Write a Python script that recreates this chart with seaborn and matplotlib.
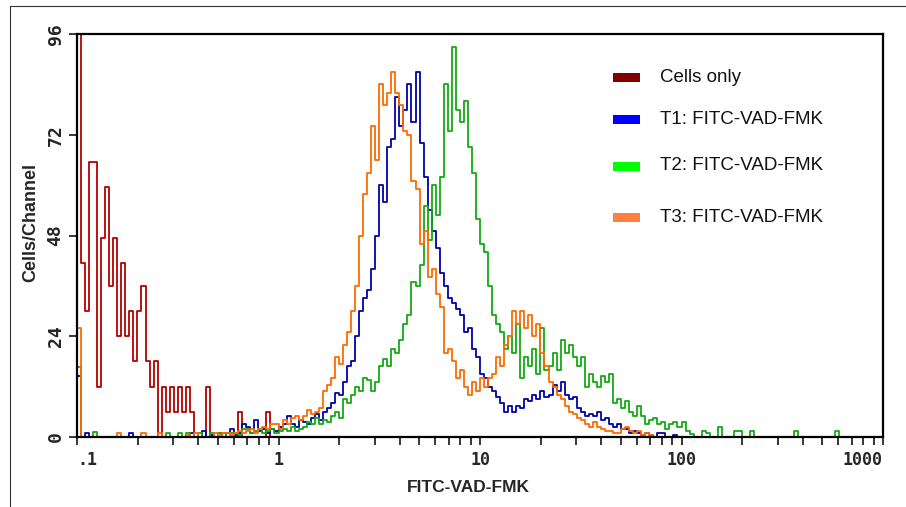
import numpy as np
import pandas as pd
import matplotlib
matplotlib.use("Agg")
import matplotlib.pyplot as plt
import seaborn as sns
from matplotlib.ticker import FixedLocator, LogLocator, NullFormatter
from matplotlib.lines import Line2D
from matplotlib.patches import Rectangle

# ---- data: counts per channel; channels are log10-spaced bins of 0.02 decade from 0.1 ----
log_start = -1.0
log_step = 0.02
n_channels = 200

cells_only = [96, 41.5, 30, 65.5, 65.5, 12, 47.5, 59.5, 36, 47.5,
              24, 41.5, 24, 30, 18, 30, 36, 18, 12, 18,
              0, 12, 6, 12, 6, 12, 6, 12, 6, 0,
              0, 0, 12, 0, 0, 0, 0, 0, 0, 0,
              6, 0, 0, 0, 0, 0, 0, 6]

t1_counts = [14.5, 0, 1, 0, 0, 0, 0, 0, 0, 0,
             0, 0, 0, 1, 0, 0, 0, 0, 0, 0,
             0, 0, 0, 0, 0, 0, 0, 0, 1, 0,
             0, 1.5, 0, 0.5, 0, 1, 0, 1, 2, 0.5,
             1, 3, 2.5, 1, 4, 1.5, 2, 1, 2, 1.5,
             2.5, 3, 5, 3, 2.5, 4, 3.5, 3, 4.5, 5.5,
             4, 6, 7, 8, 10.5, 10, 13, 17, 18, 24,
             30, 33, 35, 40, 48, 60, 56, 69, 71, 81,
             74, 78, 84, 75, 87, 70, 62, 54, 49, 45,
             39, 36, 33, 32, 30.5, 29, 25, 26, 21, 19,
             15, 14, 12, 11, 9.5, 8, 6, 7.5, 6, 7.5,
             7, 9, 8.5, 10, 9, 11, 9.5, 10, 12.5, 11,
             13, 10, 9, 9.5, 7, 6, 5, 5.5, 5, 6,
             4, 4.5, 3, 2.5, 3, 2, 2, 1, 1.5, 1,
             0.5, 1, 0.5, 0, 1, 1, 0, 0, 0.5]

t2_counts = [16.7, 0, 0, 0, 1.2, 0, 0, 0, 0, 0,
             0, 0, 0, 0, 0, 0, 0, 0, 0, 0,
             0, 0, 1, 0, 0, 1, 0, 1, 0, 0,
             1, 0, 0, 1, 0, 1, 1, 0, 1, 1,
             0.5, 2, 2, 1, 1.5, 2, 1, 1.5, 2, 1,
             1.5, 2, 1.5, 2.5, 1.5, 2, 2.5, 3.5, 3, 4.5,
             3, 4, 3.5, 5, 6, 4.5, 9, 8, 10, 12,
             11, 14, 13.5, 11, 13, 17, 18.5, 17, 21, 20,
             23, 27, 29, 37, 36, 41, 55, 47, 60, 53,
             62, 84, 73, 93, 78, 75, 80, 69, 63, 52,
             46, 44, 36, 29, 27, 25, 21, 24, 20, 27,
             14, 19, 17, 21, 15, 26, 16, 17, 20, 16,
             23, 20, 22, 19, 17, 19, 12, 15, 13, 12,
             14.5, 13, 15, 8, 9, 7, 8.5, 6, 5, 7.5,
             5, 3, 4, 4.5, 3, 3.5, 2, 3, 3.5, 2.5,
             3.5, 1.5, 0.8, 0, 0, 1.5, 1, 0, 0, 2.5,
             0, 0, 0, 1.5, 1.5, 0, 0, 1.5, 0, 0,
             0, 0, 0, 0, 0, 0, 0, 0, 1.5, 0,
             0, 0, 0, 0, 0, 0, 0, 0, 1.5]

t3_counts = [26, 0, 0, 0, 0, 0, 0, 0, 0, 0,
             1, 0, 0, 0, 0, 0, 1, 0, 0, 0,
             1, 0, 0, 0, 0, 0, 0, 0.5, 0, 1,
             0, 0, 0, 0, 1, 0.5, 1, 1, 0.5, 1,
             1.5, 1, 1.5, 2, 1, 2, 2.5, 2, 3, 3,
             2, 4, 3, 4.5, 5, 4, 5, 6.5, 5.5, 6,
             7, 11, 12.5, 14, 19, 17.5, 22, 25, 30, 36,
             48, 58, 63, 74, 66, 84, 79, 82, 87, 82,
             79, 73, 72, 61, 59, 46, 49, 38, 40, 34,
             31, 20, 21, 18, 14, 16, 12, 10, 13, 11,
             14, 12, 14, 15, 19, 17, 22, 24, 30, 27,
             30, 26, 29, 24, 27, 20, 17, 13, 12, 10,
             9, 7.5, 6, 5.5, 4.5, 4, 3, 2.5, 3.5, 2.5,
             2, 1.5, 1.5, 1, 1, 2, 2.5, 1.5, 1, 1.5,
             0.5, 1, 0.5]

series_names = ["Cells only", "T1: FITC-VAD-FMK", "T2: FITC-VAD-FMK", "T3: FITC-VAD-FMK"]
series_counts = [cells_only, t1_counts, t2_counts, t3_counts]
line_colors = ["#b40000", "#0000aa", "#14aa14", "#ff6a00"]
legend_colors = ["#800000", "#0000ff", "#00ff00", "#ff8040"]

x_ticks = [0.1, 1, 10, 100, 1000]
x_tick_labels = [".1", "1", "10", "100", "1000"]
y_ticks = [0, 24, 48, 72, 96]
y_tick_labels = ["0", "24", "48", "72", "96"]

# ---- build long-form table ----
frames = []
for name, counts in zip(series_names, series_counts):
    full = list(counts) + [0] * (n_channels - len(counts))
    idx = np.arange(n_channels)
    frames.append(pd.DataFrame({
        "channel": 10 ** (log_start + log_step * (idx + 0.5)),
        "count": full,
        "series": name,
    }))
df = pd.concat(frames, ignore_index=True)

sns.set_style("white")
plt.rcParams["font.family"] = ["Liberation Sans", "DejaVu Sans"]

W, H = 906, 507
fig = plt.figure(figsize=(W / 100, H / 100), dpi=100)
ax = fig.add_axes([77 / W, (H - 437) / H, (883 - 77) / W, (437 - 34) / H])

for name, color in zip(series_names, line_colors):
    sns.histplot(data=df[df["series"] == name], x="channel", weights="count",
                 binwidth=log_step, binrange=(log_start, log_start + log_step * n_channels),
                 log_scale=True, element="step", fill=False, color=color,
                 linewidth=1.3, ax=ax)

ax.set_xlim(0.1, 1000)
ax.set_ylim(0, 96)

mono_x = {"family": "DejaVu Sans Mono", "weight": "bold", "size": 12}
mono_y = {"family": "DejaVu Sans Mono", "weight": "bold", "size": 13}
ax.xaxis.set_major_locator(FixedLocator(x_ticks))
ax.xaxis.set_minor_locator(LogLocator(base=10, subs=np.arange(2, 10)))
ax.xaxis.set_minor_formatter(NullFormatter())
ax.set_xticklabels(x_tick_labels, fontdict=mono_x)
xl = ax.get_xticklabels()
xl[0].set_ha("left")
xl[-1].set_ha("right")
ax.set_yticks(y_ticks)
ax.set_yticklabels(y_tick_labels, fontdict=mono_y, rotation=90, va="center")
ax.tick_params(axis="both", which="both", direction="out", length=6, width=1.1,
               color="black", bottom=True, left=True)
ax.tick_params(axis="x", pad=4)
ax.tick_params(axis="y", pad=3)

for s in ax.spines.values():
    s.set_color("black")
    s.set_linewidth(1.6)

ax.set_xlabel("FITC-VAD-FMK", fontsize=12.5, fontweight="bold")
ax.xaxis.set_label_coords((468 - 77) / (883 - 77), (437 - 487) / (437 - 34))
ax.xaxis.label.set_va("center")
ax.set_ylabel("Cells/Channel", fontsize=13, fontweight="bold")
ax.yaxis.set_label_coords((31 - 77) / (883 - 77), (437 - 222) / (437 - 34))
ax.yaxis.label.set_va("center")

# legend (colour swatches + labels)
legend_y = [77, 119, 166, 217]
for name, c, yy in zip(series_names, legend_colors, legend_y):
    fig.add_artist(Rectangle((613 / W, 1 - (yy + 4.5) / H), 27 / W, 9 / H,
                             transform=fig.transFigure, color=c, lw=0))
    fig.text(660 / W, 1 - yy / H, name, fontsize=13.5, va="center", ha="left",
             color="#111111")

# outer frame lines
fig.add_artist(Line2D([10 / W, 10 / W], [0, 1 - 6 / H], transform=fig.transFigure,
                      color="#333333", lw=0.8))
fig.add_artist(Line2D([10 / W, 1], [1 - 6 / H, 1 - 6 / H], transform=fig.transFigure,
                      color="#333333", lw=0.8))

fig.savefig("out.png", dpi=100)
